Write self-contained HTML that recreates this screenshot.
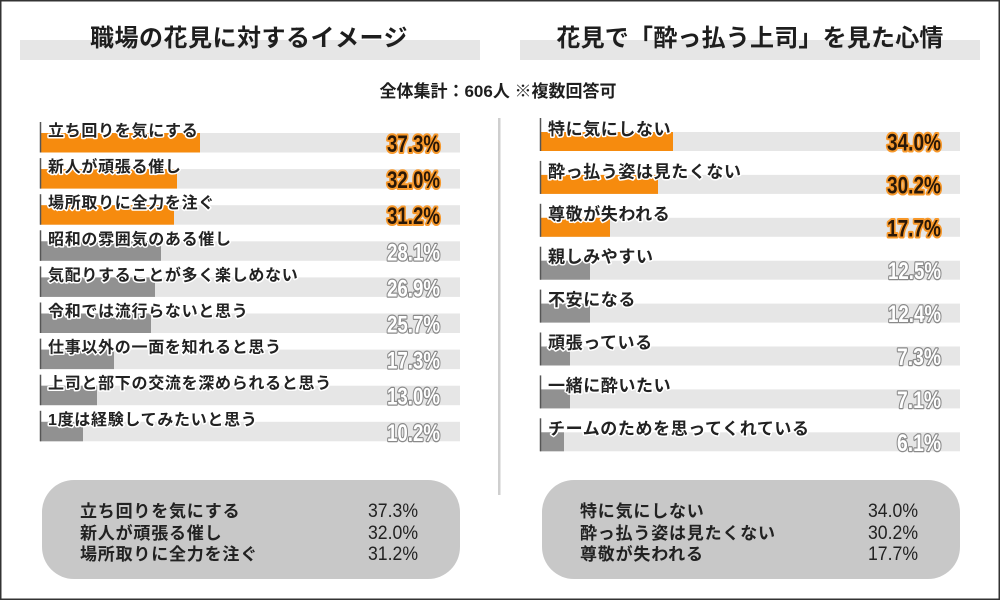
<!DOCTYPE html>
<html><head><meta charset="utf-8"><style>
html,body{margin:0;padding:0;background:#fff;}
svg{display:block;}
.t{font-family:"Liberation Sans","Noto Sans CJK JP",sans-serif;font-weight:bold;fill:#1e1e1e;}
.lab{font-family:"Liberation Sans","Noto Sans CJK JP",sans-serif;font-weight:bold;fill:#222;stroke:#fff;stroke-width:3;paint-order:stroke;stroke-linejoin:round;}
.vo{font-family:"Liberation Sans",sans-serif;font-weight:bold;font-size:24px;fill:#2a1808;stroke:#f7982a;stroke-width:4;paint-order:stroke;stroke-linejoin:round;}
.vg{font-family:"Liberation Sans",sans-serif;font-weight:bold;font-size:24px;fill:#fff;stroke:#8a8a8a;stroke-width:2.6;paint-order:stroke;stroke-linejoin:round;}
.bx{font-family:"Liberation Sans","Noto Sans CJK JP",sans-serif;font-weight:bold;font-size:17px;letter-spacing:0.8px;fill:#222;}
.bv{font-family:"Liberation Sans",sans-serif;font-size:19px;fill:#222;}
</style></head><body>
<svg width="1000" height="600" viewBox="0 0 1000 600" xmlns="http://www.w3.org/2000/svg">
<rect x="0" y="0" width="1000" height="600" fill="#fff"/>
<rect x="0.75" y="0.75" width="998.5" height="598.5" fill="none" stroke="#333" stroke-width="1.5"/>

<!-- titles -->
<rect x="20" y="40" width="460" height="20" fill="#e6e6e6"/>
<rect x="520" y="40" width="460" height="20" fill="#e6e6e6"/>
<text class="t" x="249" y="46" font-size="24" letter-spacing="0.5" text-anchor="middle">職場の花見に対するイメージ</text>
<text class="t" x="750" y="46" font-size="24" letter-spacing="0.2" text-anchor="middle">花見で「酔っ払う上司」を見た心情</text>
<text class="t" x="498" y="97" font-size="17" text-anchor="middle">全体集計：606人 ※複数回答可</text>

<!-- divider -->
<rect x="498" y="118" width="2.5" height="377" fill="#cfcfcf"/>

<!-- LEFT bars -->
<g>
<rect x="40" y="133" width="420" height="19.5" fill="#e6e6e6"/><rect x="40" y="133" width="160" height="19.5" fill="#f68b0e"/>
<rect x="40" y="169.1" width="420" height="19.5" fill="#e6e6e6"/><rect x="40" y="169.1" width="137" height="19.5" fill="#f68b0e"/>
<rect x="40" y="205.2" width="420" height="19.5" fill="#e6e6e6"/><rect x="40" y="205.2" width="134" height="19.5" fill="#f68b0e"/>
<rect x="40" y="241.3" width="420" height="19.5" fill="#e6e6e6"/><rect x="40" y="241.3" width="121" height="19.5" fill="#919191"/>
<rect x="40" y="277.4" width="420" height="19.5" fill="#e6e6e6"/><rect x="40" y="277.4" width="115" height="19.5" fill="#919191"/>
<rect x="40" y="313.5" width="420" height="19.5" fill="#e6e6e6"/><rect x="40" y="313.5" width="111" height="19.5" fill="#919191"/>
<rect x="40" y="349.6" width="420" height="19.5" fill="#e6e6e6"/><rect x="40" y="349.6" width="74" height="19.5" fill="#919191"/>
<rect x="40" y="385.7" width="420" height="19.5" fill="#e6e6e6"/><rect x="40" y="385.7" width="57" height="19.5" fill="#919191"/>
<rect x="40" y="421.8" width="420" height="19.5" fill="#e6e6e6"/><rect x="40" y="421.8" width="43" height="19.5" fill="#919191"/>
</g>
<g stroke="#555" stroke-width="1.5">
<line x1="40.5" y1="122" x2="40.5" y2="152.5"/>
<line x1="40.5" y1="158.1" x2="40.5" y2="188.6"/>
<line x1="40.5" y1="194.2" x2="40.5" y2="224.7"/>
<line x1="40.5" y1="230.3" x2="40.5" y2="260.8"/>
<line x1="40.5" y1="266.4" x2="40.5" y2="296.9"/>
<line x1="40.5" y1="302.5" x2="40.5" y2="333"/>
<line x1="40.5" y1="338.6" x2="40.5" y2="369.1"/>
<line x1="40.5" y1="374.7" x2="40.5" y2="405.2"/>
<line x1="40.5" y1="410.8" x2="40.5" y2="441.3"/>
</g>
<g class="lab" font-size="16" letter-spacing="0.7">
<text x="48" y="136">立ち回りを気にする</text>
<text x="48" y="172.1">新人が頑張る催し</text>
<text x="48" y="208.2">場所取りに全力を注ぐ</text>
<text x="48" y="244.3">昭和の雰囲気のある催し</text>
<text x="48" y="280.4">気配りすることが多く楽しめない</text>
<text x="48" y="316.5">令和では流行らないと思う</text>
<text x="48" y="352.6">仕事以外の一面を知れると思う</text>
<text x="48" y="388.7">上司と部下の交流を深められると思う</text>
<text x="48" y="424.8">1度は経験してみたいと思う</text>
</g>
<g text-anchor="end">
<text class="vo" x="440" y="152" textLength="53" lengthAdjust="spacingAndGlyphs">37.3%</text>
<text class="vo" x="440" y="188.1" textLength="53" lengthAdjust="spacingAndGlyphs">32.0%</text>
<text class="vo" x="440" y="224.2" textLength="53" lengthAdjust="spacingAndGlyphs">31.2%</text>
<text class="vg" x="440" y="260.3" textLength="53" lengthAdjust="spacingAndGlyphs">28.1%</text>
<text class="vg" x="440" y="296.4" textLength="53" lengthAdjust="spacingAndGlyphs">26.9%</text>
<text class="vg" x="440" y="332.5" textLength="53" lengthAdjust="spacingAndGlyphs">25.7%</text>
<text class="vg" x="440" y="368.6" textLength="53" lengthAdjust="spacingAndGlyphs">17.3%</text>
<text class="vg" x="440" y="404.7" textLength="53" lengthAdjust="spacingAndGlyphs">13.0%</text>
<text class="vg" x="440" y="440.8" textLength="53" lengthAdjust="spacingAndGlyphs">10.2%</text>
</g>

<!-- RIGHT bars -->
<g>
<rect x="540" y="132" width="420" height="19" fill="#e6e6e6"/><rect x="540" y="132" width="133" height="19" fill="#f68b0e"/>
<rect x="540" y="174.9" width="420" height="19" fill="#e6e6e6"/><rect x="540" y="174.9" width="118" height="19" fill="#f68b0e"/>
<rect x="540" y="217.8" width="420" height="19" fill="#e6e6e6"/><rect x="540" y="217.8" width="70" height="19" fill="#f68b0e"/>
<rect x="540" y="260.7" width="420" height="19" fill="#e6e6e6"/><rect x="540" y="260.7" width="50" height="19" fill="#919191"/>
<rect x="540" y="303.6" width="420" height="19" fill="#e6e6e6"/><rect x="540" y="303.6" width="50" height="19" fill="#919191"/>
<rect x="540" y="346.5" width="420" height="19" fill="#e6e6e6"/><rect x="540" y="346.5" width="30" height="19" fill="#919191"/>
<rect x="540" y="389.4" width="420" height="19" fill="#e6e6e6"/><rect x="540" y="389.4" width="30" height="19" fill="#919191"/>
<rect x="540" y="432.3" width="420" height="19" fill="#e6e6e6"/><rect x="540" y="432.3" width="24" height="19" fill="#919191"/>
</g>
<g stroke="#555" stroke-width="1.5">
<line x1="540.5" y1="118" x2="540.5" y2="151"/>
<line x1="540.5" y1="160.9" x2="540.5" y2="193.9"/>
<line x1="540.5" y1="203.8" x2="540.5" y2="236.8"/>
<line x1="540.5" y1="246.7" x2="540.5" y2="279.7"/>
<line x1="540.5" y1="289.6" x2="540.5" y2="322.6"/>
<line x1="540.5" y1="332.5" x2="540.5" y2="365.5"/>
<line x1="540.5" y1="375.4" x2="540.5" y2="408.4"/>
<line x1="540.5" y1="418.3" x2="540.5" y2="451.3"/>
</g>
<g class="lab" font-size="17" letter-spacing="0.6">
<text x="548" y="135">特に気にしない</text>
<text x="548" y="177.4">酔っ払う姿は見たくない</text>
<text x="548" y="219.8">尊敬が失われる</text>
<text x="548" y="262.7">親しみやすい</text>
<text x="548" y="305.6">不安になる</text>
<text x="548" y="348.5">頑張っている</text>
<text x="548" y="391.4">一緒に酔いたい</text>
<text x="548" y="434.3">チームのためを思ってくれている</text>
</g>
<g text-anchor="end">
<text class="vo" x="941" y="150.5" textLength="54" lengthAdjust="spacingAndGlyphs">34.0%</text>
<text class="vo" x="941" y="193.4" textLength="54" lengthAdjust="spacingAndGlyphs">30.2%</text>
<text class="vo" x="941" y="236.3" textLength="54" lengthAdjust="spacingAndGlyphs">17.7%</text>
<text class="vg" x="941" y="279.2" textLength="53" lengthAdjust="spacingAndGlyphs">12.5%</text>
<text class="vg" x="941" y="322.1" textLength="53" lengthAdjust="spacingAndGlyphs">12.4%</text>
<text class="vg" x="941" y="365" textLength="44" lengthAdjust="spacingAndGlyphs">7.3%</text>
<text class="vg" x="941" y="407.9" textLength="44" lengthAdjust="spacingAndGlyphs">7.1%</text>
<text class="vg" x="941" y="450.8" textLength="44" lengthAdjust="spacingAndGlyphs">6.1%</text>
</g>

<!-- summary boxes -->
<rect x="42" y="480" width="418" height="99" rx="32" ry="32" fill="#c8c8c8"/>
<rect x="542" y="480" width="418" height="99" rx="32" ry="32" fill="#c8c8c8"/>
<g class="bx">
<text x="80" y="517">立ち回りを気にする</text>
<text x="80" y="539">新人が頑張る催し</text>
<text x="80" y="560">場所取りに全力を注ぐ</text>
<text x="580" y="517">特に気にしない</text>
<text x="580" y="539">酔っ払う姿は見たくない</text>
<text x="580" y="560">尊敬が失われる</text>
</g>
<g class="bv" text-anchor="end">
<text x="418" y="517" textLength="50" lengthAdjust="spacingAndGlyphs">37.3%</text>
<text x="418" y="539" textLength="50" lengthAdjust="spacingAndGlyphs">32.0%</text>
<text x="418" y="560" textLength="50" lengthAdjust="spacingAndGlyphs">31.2%</text>
<text x="918" y="517" textLength="50" lengthAdjust="spacingAndGlyphs">34.0%</text>
<text x="918" y="539" textLength="50" lengthAdjust="spacingAndGlyphs">30.2%</text>
<text x="918" y="560" textLength="50" lengthAdjust="spacingAndGlyphs">17.7%</text>
</g>
</svg>
</body></html>
